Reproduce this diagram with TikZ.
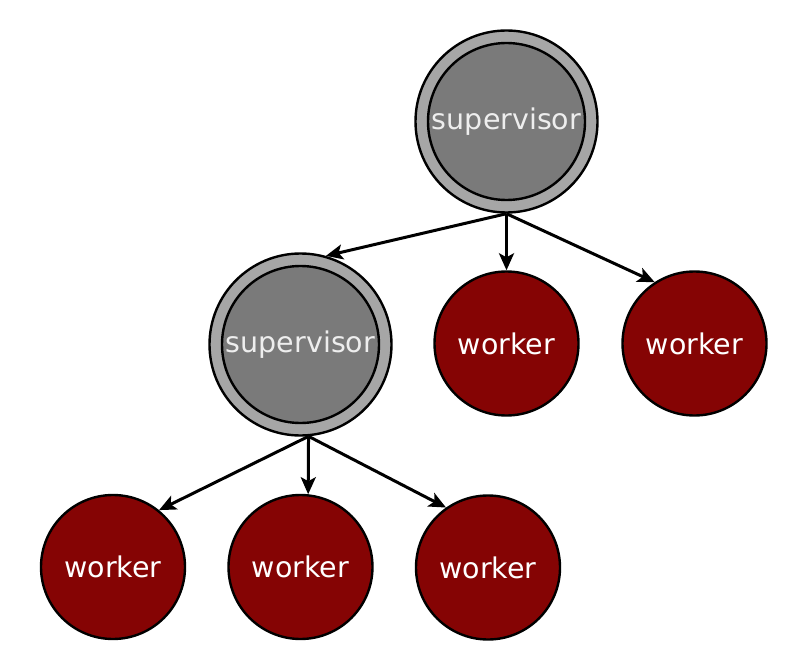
\documentclass[tikz,border=0pt]{standalone}
\usepackage{fontspec}
\setmainfont{DejaVu Sans}
\usetikzlibrary{arrows.meta}
\definecolor{supouter}{HTML}{A6A6A6}
\definecolor{supinner}{HTML}{7A7A7A}
\definecolor{workred}{HTML}{850404}
\definecolor{suptext}{HTML}{EEEEEE}
\begin{document}
\begin{tikzpicture}[x=1pt,y=-1pt,
  supout/.style={circle,draw=black,line width=2.4pt,fill=supouter,minimum size=182pt,inner sep=0pt},
  supin/.style={circle,draw=black,line width=2.4pt,fill=supinner,minimum size=157pt,inner sep=0pt,
    text=suptext,font=\fontsize{28.5}{32}\selectfont},
  workernode/.style={circle,draw=black,line width=2.4pt,fill=workred,minimum size=144pt,inner sep=0pt,
    text=white,font=\fontsize{28.5}{32}\selectfont},
  edge/.style={line width=3pt,-{Stealth[length=17pt,width=15pt,inset=4pt]}}
]
\useasboundingbox (0,0) rectangle (786,668);
\node[supout] (s1) at (506.5,121.5) {};
\node[supin] (s1in) at (s1) {supervisor};
\node[supout] (s2) at (300.5,344.5) {};
\node[supin] (s2in) at (s2) {supervisor};
\node[workernode] (w2) at (506.5,343.5) {worker};
\node[workernode] (w3) at (694.5,343.5) {worker};
\node[workernode] (w4) at (113,567) {worker};
\node[workernode] (w5) at (300.5,567) {worker};
\node[workernode] (w6) at (488,567.5) {worker};
\coordinate (s2src) at (s2.275);
\draw[edge] (s1.south) -- (s2.74);
\draw[edge] (s1.south) -- (w2.north);
\draw[edge] (s1.south) -- (w3.123);
\draw[edge] (s2src) -- (w4.51);
\draw[edge] (s2src) -- (w5.84);
\draw[edge] (s2src) -- (w6.125);
\end{tikzpicture}
\end{document}
